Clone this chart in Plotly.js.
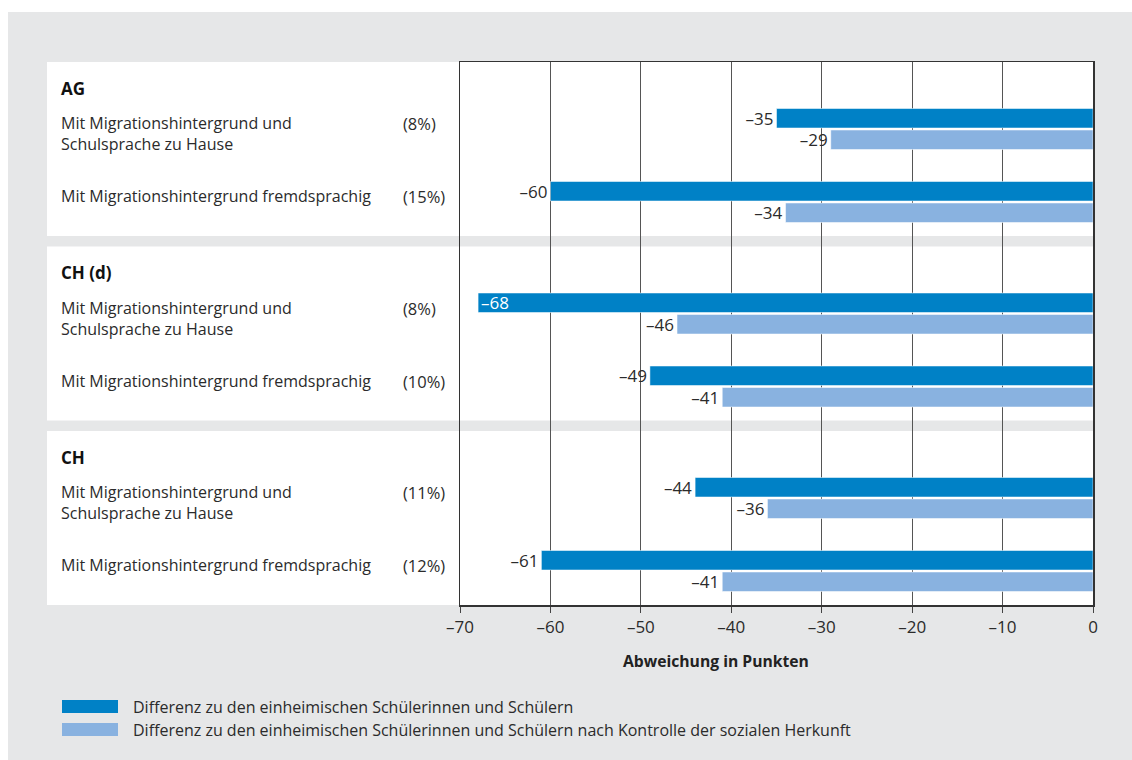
<!DOCTYPE html>
<html>
<head>
<meta charset="utf-8">
<script src="https://cdn.plot.ly/plotly-3.0.1.min.js"></script>
<style>
  body { margin: 0; background: #fff; }
  #chart { position: absolute; left: 8px; top: 12px; width: 1124px; height: 748px; }
</style>
</head>
<body>
<div id="chart"></div>
<script>
// data
var groups = ['AG', 'CH (d)', 'CH'];
var rowLabels = ['Mit Migrationshintergrund und<br>Schulsprache zu Hause', 'Mit Migrationshintergrund fremdsprachig'];
var shares = ['(8%)', '(15%)', '(8%)', '(10%)', '(11%)', '(12%)'];
var diffRaw = [-35, -60, -68, -49, -44, -61];
var diffControlled = [-29, -34, -46, -41, -36, -41];
var seriesNames = [
  'Differenz zu den einheimischen Schülerinnen und Schülern',
  'Differenz zu den einheimischen Schülerinnen und Schülern nach Kontrolle der sozialen Herkunft'
];
var tickVals = [-70, -60, -50, -40, -30, -20, -10, 0];
var tickText = ['–70', '–60', '–50', '–40', '–30', '–20', '–10', '0'];
var axisTitle = 'Abweichung in Punkten';

// layout helpers (page pixels -> plot coords)
var plotLeft = 460, plotW = 633, plotTop = 62, plotH = 543;
function px(x) { return (x - plotLeft) / plotW; }
function py(y) { return (plotTop + plotH - y) / plotH; }
var groupStep = 184.5, groupH = 174;
var rowOffset = [67, 140];

var dark = '#0081c6', light = '#89b2e0', txt = '#2b2b2b';
var font = 'Open Sans, sans-serif';

var rowY = diffRaw.map(function (v, i) {
  return Math.floor(i / 2) * groupStep + rowOffset[i % 2];
});
function lab(v) { return v < 0 ? '–' + Math.abs(v) : String(v); }

var trace1 = {
  x: diffRaw,
  y: rowY,
  type: 'bar',
  orientation: 'h',
  name: seriesNames[0],
  width: 19.5,
  offset: -20.5,
  marker: { color: dark, line: { color: 'rgba(255,255,255,0.5)', width: 1 } },
  text: diffRaw.map(lab),
  textposition: diffRaw.map(function (v) { return v < -65 ? 'inside' : 'outside'; }),
  insidetextfont: { family: font, size: 17, color: '#fff' },
  outsidetextfont: { family: font, size: 17, color: txt },
  constraintext: 'none',
  cliponaxis: false,
  hoverinfo: 'x'
};

var trace2 = {
  x: diffControlled,
  y: rowY,
  type: 'bar',
  orientation: 'h',
  name: seriesNames[1],
  width: 19.5,
  offset: 1,
  marker: { color: light, line: { color: 'rgba(255,255,255,0.5)', width: 1 } },
  text: diffControlled.map(lab),
  textposition: 'outside',
  outsidetextfont: { family: font, size: 17, color: txt },
  constraintext: 'none',
  cliponaxis: false,
  hoverinfo: 'x'
};

var shapes = [];
var annotations = [];

groups.forEach(function (g, gi) {
  // white panel behind each group
  shapes.push({
    type: 'rect', layer: 'below',
    xref: 'paper', yref: 'y',
    x0: px(47), x1: 1,
    y0: gi * groupStep, y1: gi * groupStep + groupH,
    fillcolor: '#fff', line: { width: 0 }
  });
  annotations.push({
    xref: 'paper', yref: 'y',
    x: px(59), y: gi * groupStep + 26,
    xanchor: 'left', yanchor: 'middle',
    text: '<b>' + g + '</b>', showarrow: false,
    font: { family: font, size: 17, color: '#111' }
  });
});

rowY.forEach(function (y, i) {
  annotations.push({
    xref: 'paper', yref: 'y',
    x: px(59), y: y - 19,
    xanchor: 'left', yanchor: 'top', align: 'left',
    text: rowLabels[i % 2], showarrow: false,
    font: { family: font, size: 16, color: txt }
  });
  annotations.push({
    xref: 'paper', yref: 'y',
    x: px(401), y: y - 19,
    xanchor: 'left', yanchor: 'top',
    text: shares[i], showarrow: false,
    font: { family: font, size: 16.5, color: txt }
  });
});

// axis title
annotations.push({
  xref: 'paper', yref: 'paper',
  x: px(716), y: py(661),
  xanchor: 'center', yanchor: 'middle',
  text: '<b>' + axisTitle + '</b>', showarrow: false,
  font: { family: font, size: 15.7, color: '#222' }
});

// legend
[dark, light].forEach(function (c, i) {
  var top = 700 + i * 23;
  shapes.push({
    type: 'rect', xref: 'paper', yref: 'paper',
    x0: px(62), x1: px(118), y0: py(top), y1: py(top + 13),
    fillcolor: c, line: { width: 0 }
  });
  annotations.push({
    xref: 'paper', yref: 'paper',
    x: px(131), y: py(top + 6.5),
    xanchor: 'left', yanchor: 'middle',
    text: seriesNames[i], showarrow: false,
    font: { family: font, size: 16, color: txt }
  });
});

var layout = {
  width: 1124,
  height: 748,
  paper_bgcolor: '#e6e7e8',
  plot_bgcolor: '#e6e7e8',
  margin: { l: 452, r: 39, t: 50, b: 155 },
  barmode: 'overlay',
  showlegend: false,
  xaxis: {
    range: [-70, 0],
    tickvals: tickVals,
    ticktext: tickText,
    ticks: 'outside',
    ticklen: 6,
    tickcolor: '#444',
    showgrid: true,
    gridcolor: '#555',
    gridwidth: 1,
    showline: true,
    linecolor: '#333',
    linewidth: 1.5,
    mirror: true,
    zeroline: false,
    tickfont: { family: font, size: 17, color: txt },
    fixedrange: true
  },
  yaxis: {
    range: [plotH, 0],
    showgrid: false,
    zeroline: false,
    showticklabels: false,
    showline: true,
    linecolor: '#333',
    linewidth: 1.5,
    mirror: true,
    fixedrange: true
  },
  shapes: shapes,
  annotations: annotations
};

Plotly.newPlot('chart', [trace1, trace2], layout, { displayModeBar: false, staticPlot: true });
</script>
</body>
</html>
